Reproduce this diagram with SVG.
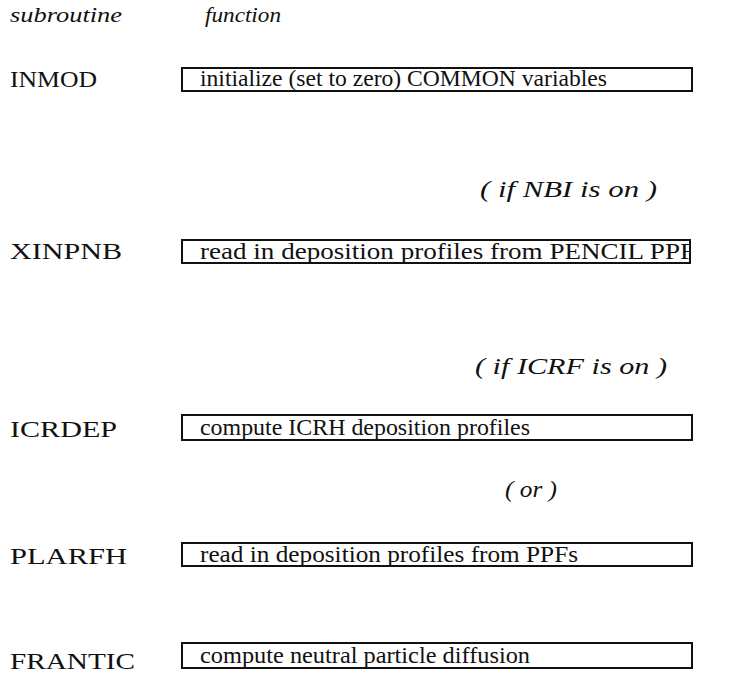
<svg xmlns="http://www.w3.org/2000/svg" width="755" height="693" viewBox="0 0 755 693">
<defs>
<style>
text{font-family:"Liberation Serif","Times New Roman",serif;fill:#111;}
.hd{font-style:italic;font-size:22px;}
.sub{font-size:24px;}
.fn{font-size:24px;}
.cond{font-style:italic;font-size:23px;}
.box{fill:#fff;stroke:#111;stroke-width:2;}
</style>
<clipPath id="c2"><rect x="182" y="236" width="508" height="32"/></clipPath>
</defs>
<rect width="755" height="693" fill="#fff"/>
<g id="headers">
<text class="hd" x="10" y="22" textLength="112" lengthAdjust="spacingAndGlyphs">subroutine</text>
<text class="hd" x="205" y="22" textLength="76" lengthAdjust="spacingAndGlyphs">function</text>
</g>
<g id="inmod">
<text class="sub" x="10" y="87" textLength="87" lengthAdjust="spacingAndGlyphs">INMOD</text>
<rect class="box" x="182" y="68" width="510" height="23"/>
<text class="fn" x="200" y="86" textLength="407" lengthAdjust="spacingAndGlyphs">initialize (set to zero) COMMON variables</text>
</g>
<g id="cond-nbi">
<text class="cond" x="480" y="197" textLength="177" lengthAdjust="spacingAndGlyphs">( if NBI is on )</text>
</g>
<g id="xinpnb">
<text class="sub" x="10" y="259" textLength="112" lengthAdjust="spacingAndGlyphs">XINPNB</text>
<rect class="box" x="182" y="240" width="508" height="23"/>
<text class="fn" x="200" y="259" textLength="495" lengthAdjust="spacingAndGlyphs" clip-path="url(#c2)">read in deposition profiles from PENCIL PPF</text>
</g>
<g id="cond-icrf">
<text class="cond" x="475" y="374" textLength="192" lengthAdjust="spacingAndGlyphs">( if ICRF is on )</text>
</g>
<g id="icrdep">
<text class="sub" x="10" y="437" textLength="107" lengthAdjust="spacingAndGlyphs">ICRDEP</text>
<rect class="box" x="182" y="415" width="510" height="25"/>
<text class="fn" x="200" y="435" textLength="330" lengthAdjust="spacingAndGlyphs">compute ICRH deposition profiles</text>
</g>
<g id="cond-or">
<text class="cond" x="505" y="497" textLength="52" lengthAdjust="spacingAndGlyphs">( or )</text>
</g>
<g id="plarfh">
<text class="sub" x="10" y="564" textLength="117" lengthAdjust="spacingAndGlyphs">PLARFH</text>
<rect class="box" x="182" y="543" width="510" height="23"/>
<text class="fn" x="200" y="562" textLength="378" lengthAdjust="spacingAndGlyphs">read in deposition profiles from PPFs</text>
</g>
<g id="frantic">
<text class="sub" x="10" y="669" textLength="125" lengthAdjust="spacingAndGlyphs">FRANTIC</text>
<rect class="box" x="182" y="643" width="510" height="25"/>
<text class="fn" x="200" y="663" textLength="330" lengthAdjust="spacingAndGlyphs">compute neutral particle diffusion</text>
</g>
<g id="connectors"></g>
</svg>
